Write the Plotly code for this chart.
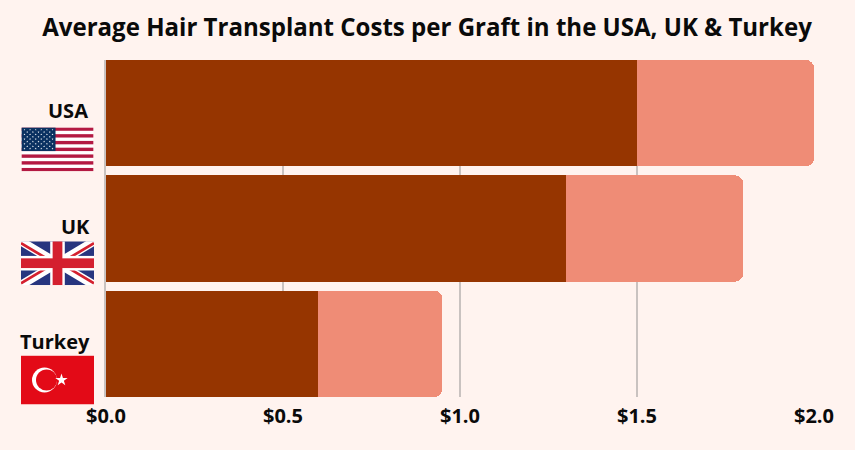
import base64
import math
import plotly.graph_objects as go

# Cost per graft in US dollars
countries = ["USA", "UK", "Turkey"]
low_cost = [1.5, 1.3, 0.6]
high_cost = [2.0, 1.8, 0.95]
tick_values = [0.0, 0.5, 1.0, 1.5, 2.0]
tick_labels = ["$0.0", "$0.5", "$1.0", "$1.5", "$2.0"]

BACKGROUND = "#fff3ef"
DARK = "#963500"
LIGHT = "#ef8c76"
FONT = "Open Sans"
INK = "#0a0a0a"

# Plot area in pixels
LEFT, RIGHT, TOP, BOTTOM = 106, 814, 60, 397.5


def data_uri(svg):
    return "data:image/svg+xml;base64," + base64.b64encode(svg.encode()).decode()


def star(cx, cy, r, fill):
    pts = []
    for i in range(10):
        a = -math.pi / 2 + i * math.pi / 5
        rad = r if i % 2 == 0 else r * 0.382
        pts.append(f"{cx + rad * math.cos(a):.2f},{cy + rad * math.sin(a):.2f}")
    return f'<polygon points="{" ".join(pts)}" fill="{fill}"/>'


def usa_flag():
    parts = ['<svg xmlns="http://www.w3.org/2000/svg" width="73" height="44" viewBox="0 0 741 455">',
             '<rect width="741" height="455" fill="#fff"/>']
    for i in range(7):
        parts.append(f'<rect y="{i * 70}" width="741" height="35" fill="#b31942"/>')
    parts.append('<rect width="350" height="245" fill="#0a3161"/>')
    for row in range(9):
        count = 6 if row % 2 == 0 else 5
        offset = 29 if row % 2 == 0 else 58
        for col in range(count):
            parts.append(star(offset + col * 58, 24 + row * 24.5, 11, "#fff"))
    parts.append("</svg>")
    return "".join(parts)


def uk_flag():
    return (
        '<svg xmlns="http://www.w3.org/2000/svg" width="73" height="44" viewBox="0 0 60 36">'
        '<rect width="60" height="36" fill="#27357f"/>'
        '<path d="M0,0 L60,36 M60,0 L0,36" stroke="#fff" stroke-width="7"/>'
        '<path d="M0,1.5 L26,17 M34,19 L60,34.5 M60,1.5 L34,17 M26,19 L0,34.5" stroke="#d4202f" stroke-width="2.2"/>'
        '<rect x="24" width="12" height="36" fill="#fff"/>'
        '<rect y="12" width="60" height="12" fill="#fff"/>'
        '<rect x="26" width="8" height="36" fill="#d4202f"/>'
        '<rect y="14" width="60" height="8" fill="#d4202f"/>'
        "</svg>"
    )


def turkey_flag():
    return (
        '<svg xmlns="http://www.w3.org/2000/svg" width="73" height="49" viewBox="0 0 73 49">'
        '<rect width="73" height="49" fill="#e30a17"/>'
        '<circle cx="23.5" cy="24.5" r="12.5" fill="#fff"/>'
        '<circle cx="25.6" cy="24.5" r="10.6" fill="#e30a17"/>'
        + star(40.5, 24.5, 6.5, "#fff")
        + "</svg>"
    )


def px_x(x):
    return (x - LEFT) / (RIGHT - LEFT)


def px_y(y):
    return 1 - (y - TOP) / (BOTTOM - TOP)


fig = go.Figure()
fig.add_bar(y=countries, x=low_cost, orientation="h", marker=dict(color=DARK, line_width=0))
fig.add_bar(
    y=countries,
    x=[h - l for h, l in zip(high_cost, low_cost)],
    orientation="h",
    marker=dict(color=LIGHT, line_width=0),
)

flags = [(usa_flag(), 127.5, 44), (uk_flag(), 241.5, 44), (turkey_flag(), 356, 49)]
images = [
    dict(
        source=data_uri(svg), xref="paper", yref="paper", xanchor="left", yanchor="top",
        x=px_x(21), y=px_y(top), sizex=73 / (RIGHT - LEFT), sizey=h / (BOTTOM - TOP),
        sizing="stretch", layer="above",
    )
    for svg, top, h in flags
]

annotations = [
    dict(
        text=f"<b>{name}</b>", xref="paper", yref="paper", xanchor="right", yanchor="middle",
        x=px_x(right), y=px_y(mid), showarrow=False,
        font=dict(family=FONT, size=20, color=INK),
    )
    for name, right, mid in [("USA", 90, 111), ("UK", 92, 227), ("Turkey", 92, 342)]
]

fig.update_layout(
    width=855,
    height=450,
    margin=dict(l=LEFT, r=855 - RIGHT, t=TOP, b=450 - BOTTOM),
    autosize=False,
    barmode="stack",
    bargap=0.08,
    barcornerradius=8,
    showlegend=False,
    paper_bgcolor=BACKGROUND,
    plot_bgcolor=BACKGROUND,
    title=dict(
        text="<b>Average Hair Transplant Costs per Graft in the USA, UK &amp; Turkey</b>",
        x=427 / 855, xanchor="center", y=1 - 28 / 450, yanchor="middle",
        font=dict(family=FONT, size=24.05, color=INK),
    ),
    images=images,
    annotations=annotations,
    xaxis=dict(
        range=[0, 2.0],
        tickmode="array",
        tickvals=tick_values,
        ticktext=[f"<b>{t}</b>" for t in tick_labels],
        tickfont=dict(family=FONT, size=20, color=INK),
        showgrid=True,
        gridcolor="#c9c2c0",
        gridwidth=2,
        zeroline=False,
        showline=False,
        ticks="",
        ticklabelstandoff=5,
    ),
    yaxis=dict(
        categoryorder="array",
        categoryarray=countries,
        range=[2.46, -0.46],
        showticklabels=False,
        showgrid=False,
        zeroline=False,
        showline=True,
        linecolor="#c9c2c0",
        linewidth=2,
        ticks="",
    ),
)

fig.write_html("out.html", config=dict(displayModeBar=False))
